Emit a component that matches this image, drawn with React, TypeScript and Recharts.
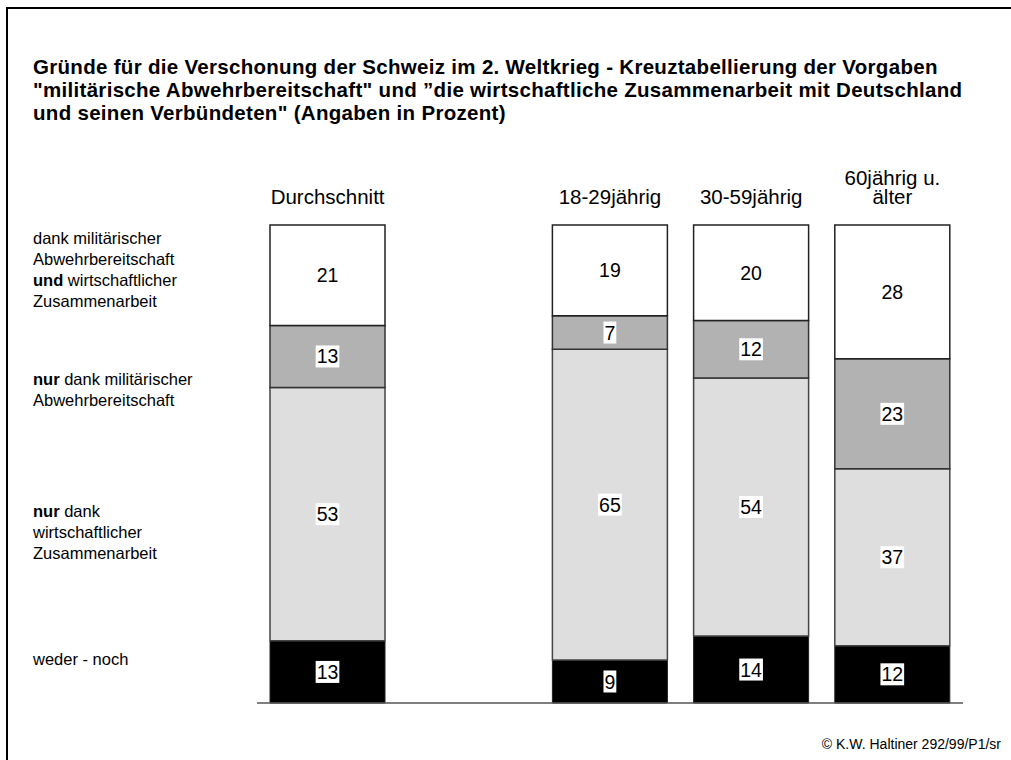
import React from "react";
import { BarChart, Bar, XAxis, YAxis, LabelList, ReferenceLine } from "recharts";

// Kategorien (leere Kategorie = Abstand nach "Durchschnitt")
const categories = ["Durchschnitt", "", "18-29jährig", "30-59jährig", "60jährig u.|älter"];
const wederNoch = [13, null, 9, 14, 12];
const nurWirtschaft = [53, null, 65, 54, 37];
const nurMilitaer = [13, null, 7, 12, 23];
const beide = [21, null, 19, 20, 28];

const FONT = "'Liberation Sans', Arial, Helvetica, sans-serif";

const chartData = categories.map((name, i) => ({
  name,
  wederNoch: wederNoch[i],
  nurWirtschaft: nurWirtschaft[i],
  nurMilitaer: nurMilitaer[i],
  beide: beide[i],
}));

const CategoryTick = (props: any) => {
  const { x, y, payload } = props;
  if (!payload || !payload.value) return null;
  const lines = String(payload.value).split("|");
  return (
    <g>
      {lines.map((line, i) => (
        <text
          key={i}
          x={x}
          y={y - 21 - (lines.length - 1 - i) * 19}
          textAnchor="middle"
          fontFamily={FONT}
          fontSize={20.5}
          fill="#000"
        >
          {line}
        </text>
      ))}
    </g>
  );
};

const ValueLabel = (props: any) => {
  const { x, y, width, height, value } = props;
  if (value === null || value === undefined) return null;
  const cx = x + width / 2;
  const cy = y + height / 2;
  const fs = 19.5;
  const w = String(value).length * fs * 0.556 + 2;
  const h = 22;
  return (
    <g>
      <rect x={cx - w / 2} y={cy - h / 2} width={w} height={h} fill="#fff" />
      <text
        x={cx}
        y={cy + fs * 0.36}
        textAnchor="middle"
        fontFamily={FONT}
        fontSize={fs}
        fill="#000"
      >
        {value}
      </text>
    </g>
  );
};

const legendStyle: React.CSSProperties = {
  position: "absolute",
  left: 33,
  fontFamily: FONT,
  fontSize: 16.5,
  lineHeight: "21px",
  color: "#000",
};

const App = () => {
  return (
    <div
      style={{
        position: "absolute",
        left: 0,
        top: 0,
        width: 1011,
        height: 760,
        overflow: "hidden",
        background: "#fff",
      }}
    >
      <div
        style={{
          position: "absolute",
          left: 6,
          top: 7,
          width: 1100,
          height: 800,
          borderLeft: "2px solid #000",
          borderTop: "2px solid #000",
        }}
      />
      <div
        style={{
          position: "absolute",
          left: 33,
          top: 55,
          fontFamily: FONT,
          fontSize: 20.5,
          letterSpacing: 0.3,
          fontWeight: "bold",
          lineHeight: "23px",
          color: "#000",
          whiteSpace: "nowrap",
        }}
      >
        Gründe für die Verschonung der Schweiz im 2. Weltkrieg - Kreuztabellierung der Vorgaben
        <br />
        "militärische Abwehrbereitschaft" und ”die wirtschaftliche Zusammenarbeit mit Deutschland
        <br />
        und seinen Verbündeten" (Angaben in Prozent)
      </div>

      <div style={{ ...legendStyle, top: 228 }}>
        dank militärischer
        <br />
        Abwehrbereitschaft
        <br />
        <b>und</b> wirtschaftlicher
        <br />
        Zusammenarbeit
      </div>
      <div style={{ ...legendStyle, top: 369 }}>
        <b>nur</b> dank militärischer
        <br />
        Abwehrbereitschaft
      </div>
      <div style={{ ...legendStyle, top: 501 }}>
        <b>nur</b> dank
        <br />
        wirtschaftlicher
        <br />
        Zusammenarbeit
      </div>
      <div style={{ ...legendStyle, top: 649 }}>weder - noch</div>

      <div style={{ position: "absolute", left: 0, top: 0 }}>
        <BarChart
          width={1011}
          height={760}
          data={chartData}
          margin={{ top: 175, right: 48, left: 257, bottom: 57 }}
          barSize={115}
        >
          <XAxis
            dataKey="name"
            orientation="top"
            height={50}
            axisLine={false}
            tickLine={false}
            tickSize={0}
            tickMargin={0}
            interval={0}
            tick={<CategoryTick />}
          />
          <YAxis hide domain={[0, 100]} />
          <ReferenceLine y={0} stroke="#555" strokeWidth={1.5} />
          <Bar dataKey="wederNoch" stackId="a" fill="#000" stroke="#222" strokeWidth={1} isAnimationActive={false}>
            <LabelList dataKey="wederNoch" content={<ValueLabel />} />
          </Bar>
          <Bar dataKey="nurWirtschaft" stackId="a" fill="#dedede" stroke="#444" strokeWidth={1.5} isAnimationActive={false}>
            <LabelList dataKey="nurWirtschaft" content={<ValueLabel />} />
          </Bar>
          <Bar dataKey="nurMilitaer" stackId="a" fill="#b2b2b2" stroke="#333" strokeWidth={1.5} isAnimationActive={false}>
            <LabelList dataKey="nurMilitaer" content={<ValueLabel />} />
          </Bar>
          <Bar dataKey="beide" stackId="a" fill="#fff" stroke="#222" strokeWidth={1.5} isAnimationActive={false}>
            <LabelList dataKey="beide" content={<ValueLabel />} />
          </Bar>
        </BarChart>
      </div>

      <div
        style={{
          position: "absolute",
          right: 10,
          top: 736,
          fontFamily: FONT,
          fontSize: 14,
          color: "#000",
          whiteSpace: "nowrap",
        }}
      >
        © K.W. Haltiner 292/99/P1/sr
      </div>
    </div>
  );
};

export default App;
